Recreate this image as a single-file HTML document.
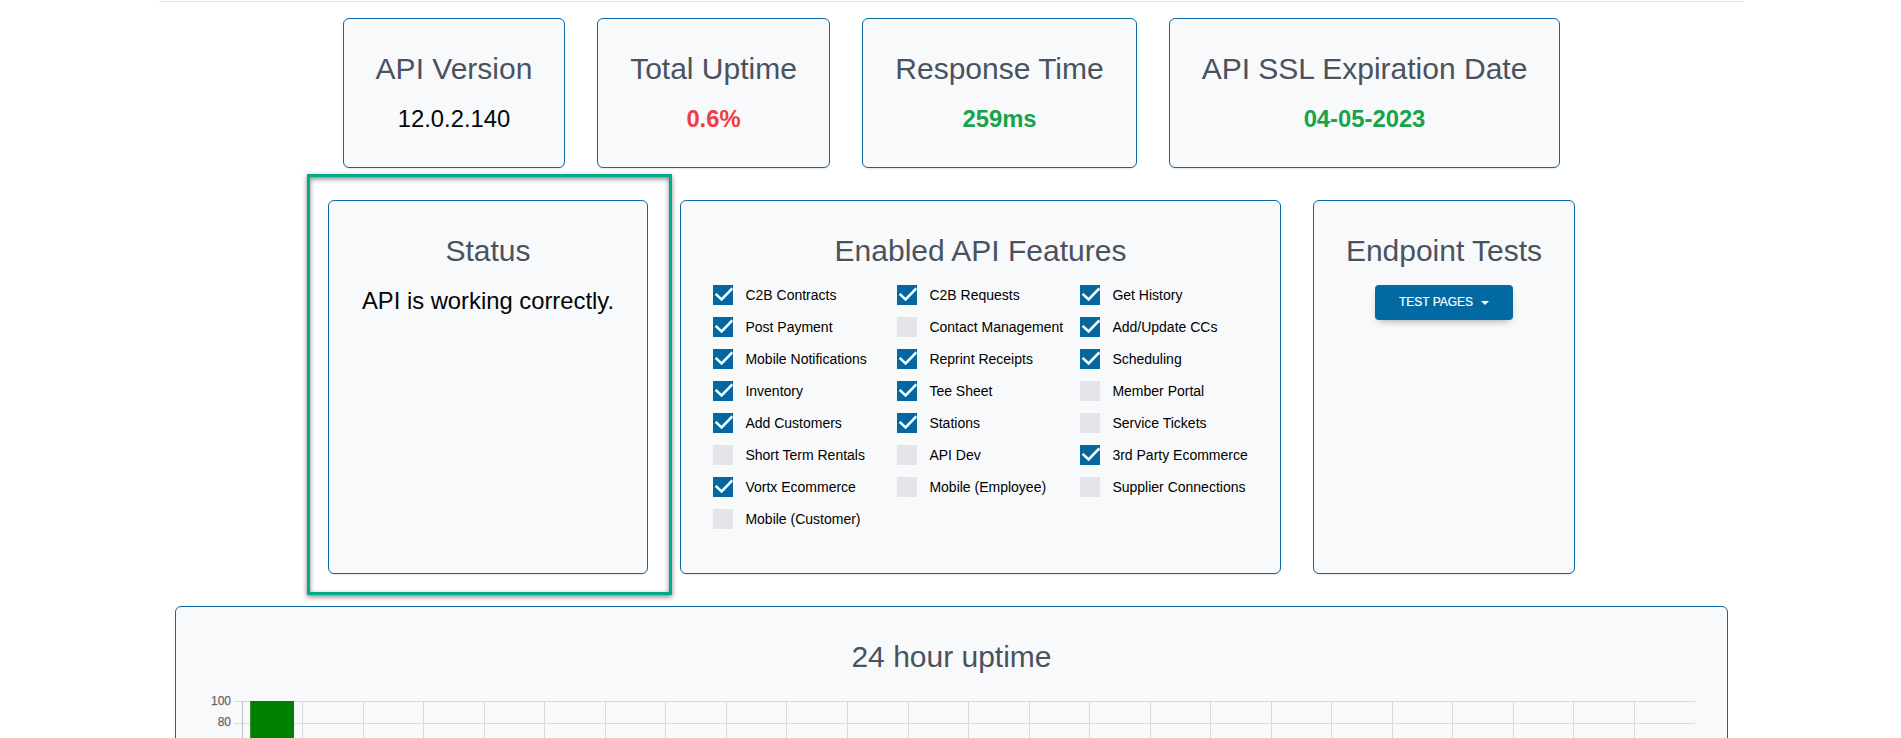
<!DOCTYPE html>
<html lang="en">
<head>
<meta charset="utf-8">
<title>API Status</title>
<style>
html,body{margin:0;padding:0;background:#fff;}
body{width:1901px;height:738px;overflow:hidden;position:relative;font-family:"Liberation Sans",Arial,sans-serif;color:#000;}
.hr{position:absolute;left:159px;top:1px;width:1585px;height:1px;background:#e0e2e6;}
.card{position:absolute;box-sizing:border-box;background:#f8f9fa;border:1px solid #0b68a2;border-radius:6px;box-shadow:0 2px 2px -1px rgba(0,0,0,.10);text-align:center;}
.card h3{position:absolute;left:0;right:0;top:32px;margin:0;font-weight:400;font-size:30px;line-height:36px;color:#4a5260;white-space:nowrap;}
.card .v{position:absolute;left:0;right:0;top:82px;margin:0;font-size:23.8px;line-height:36px;color:#050505;white-space:nowrap;}
.v.b{font-weight:700;}
.red{color:#f03d42 !important;}
.grn{color:#17a34a !important;}
.hl{position:absolute;left:307px;top:174px;width:365px;height:421px;box-sizing:border-box;border:3px solid #03aa87;box-shadow:0 2px 5px rgba(0,0,0,.48), inset 0 2px 5px rgba(0,0,0,.48);}
.ft{position:absolute;height:20px;white-space:nowrap;}
.cb{position:absolute;left:0;top:0;width:20px;height:20px;background:#e4e5e9;display:block;}
.cb.on{background:#0468a0;}
.cb svg{display:block;}
.fl{position:absolute;left:32.4px;top:-0.5px;font-size:14px;line-height:20px;color:#000;}
.btn{position:absolute;left:1375px;top:285px;width:138px;height:35px;box-sizing:border-box;background:#0369a2;color:#fff;border-radius:4px;font-size:12px;line-height:35px;text-transform:uppercase;text-align:center;box-shadow:0 4px 9px -4px rgba(0,0,0,.42);-webkit-text-stroke:.2px #fff;}
.btn .caret{display:inline-block;width:0;height:0;border-left:4px solid transparent;border-right:4px solid transparent;border-top:4px solid #fff;margin-left:8px;vertical-align:1px;}
.chart{position:absolute;left:0;top:0;}
.tk{font-family:"Liberation Sans",Arial,sans-serif;font-size:12px;fill:#666;stroke:#666;stroke-width:.25px;}
</style>
</head>
<body>
<div class="hr"></div>

<div class="card" style="left:343px;top:18px;width:222px;height:150px"><h3>API Version</h3><p class="v">12.0.2.140</p></div>
<div class="card" style="left:597px;top:18px;width:233px;height:150px"><h3>Total Uptime</h3><p class="v b red">0.6%</p></div>
<div class="card" style="left:862px;top:18px;width:275px;height:150px"><h3>Response Time</h3><p class="v b grn">259ms</p></div>
<div class="card" style="left:1169px;top:18px;width:391px;height:150px"><h3>API SSL Expiration Date</h3><p class="v b grn">04-05-2023</p></div>

<div class="hl"></div>
<div class="card" style="left:328px;top:200px;width:320px;height:374px"><h3>Status</h3><p class="v">API is working correctly.</p></div>
<div class="card" style="left:680px;top:200px;width:601px;height:374px"><h3>Enabled API Features</h3></div>
<div class="ft" style="left:713px;top:285px"><span class="cb on"><svg viewBox="0 0 20 20" width="20" height="20"><path d="M2.6 8.9 L8.6 14.5 L19.4 3.3" fill="none" stroke="#fff" stroke-width="2.6"/></svg></span><span class="fl">C2B Contracts</span></div>
<div class="ft" style="left:713px;top:317px"><span class="cb on"><svg viewBox="0 0 20 20" width="20" height="20"><path d="M2.6 8.9 L8.6 14.5 L19.4 3.3" fill="none" stroke="#fff" stroke-width="2.6"/></svg></span><span class="fl">Post Payment</span></div>
<div class="ft" style="left:713px;top:349px"><span class="cb on"><svg viewBox="0 0 20 20" width="20" height="20"><path d="M2.6 8.9 L8.6 14.5 L19.4 3.3" fill="none" stroke="#fff" stroke-width="2.6"/></svg></span><span class="fl">Mobile Notifications</span></div>
<div class="ft" style="left:713px;top:381px"><span class="cb on"><svg viewBox="0 0 20 20" width="20" height="20"><path d="M2.6 8.9 L8.6 14.5 L19.4 3.3" fill="none" stroke="#fff" stroke-width="2.6"/></svg></span><span class="fl">Inventory</span></div>
<div class="ft" style="left:713px;top:413px"><span class="cb on"><svg viewBox="0 0 20 20" width="20" height="20"><path d="M2.6 8.9 L8.6 14.5 L19.4 3.3" fill="none" stroke="#fff" stroke-width="2.6"/></svg></span><span class="fl">Add Customers</span></div>
<div class="ft" style="left:713px;top:445px"><span class="cb"></span><span class="fl">Short Term Rentals</span></div>
<div class="ft" style="left:713px;top:477px"><span class="cb on"><svg viewBox="0 0 20 20" width="20" height="20"><path d="M2.6 8.9 L8.6 14.5 L19.4 3.3" fill="none" stroke="#fff" stroke-width="2.6"/></svg></span><span class="fl">Vortx Ecommerce</span></div>
<div class="ft" style="left:713px;top:509px"><span class="cb"></span><span class="fl">Mobile (Customer)</span></div>
<div class="ft" style="left:897px;top:285px"><span class="cb on"><svg viewBox="0 0 20 20" width="20" height="20"><path d="M2.6 8.9 L8.6 14.5 L19.4 3.3" fill="none" stroke="#fff" stroke-width="2.6"/></svg></span><span class="fl">C2B Requests</span></div>
<div class="ft" style="left:897px;top:317px"><span class="cb"></span><span class="fl">Contact Management</span></div>
<div class="ft" style="left:897px;top:349px"><span class="cb on"><svg viewBox="0 0 20 20" width="20" height="20"><path d="M2.6 8.9 L8.6 14.5 L19.4 3.3" fill="none" stroke="#fff" stroke-width="2.6"/></svg></span><span class="fl">Reprint Receipts</span></div>
<div class="ft" style="left:897px;top:381px"><span class="cb on"><svg viewBox="0 0 20 20" width="20" height="20"><path d="M2.6 8.9 L8.6 14.5 L19.4 3.3" fill="none" stroke="#fff" stroke-width="2.6"/></svg></span><span class="fl">Tee Sheet</span></div>
<div class="ft" style="left:897px;top:413px"><span class="cb on"><svg viewBox="0 0 20 20" width="20" height="20"><path d="M2.6 8.9 L8.6 14.5 L19.4 3.3" fill="none" stroke="#fff" stroke-width="2.6"/></svg></span><span class="fl">Stations</span></div>
<div class="ft" style="left:897px;top:445px"><span class="cb"></span><span class="fl">API Dev</span></div>
<div class="ft" style="left:897px;top:477px"><span class="cb"></span><span class="fl">Mobile (Employee)</span></div>
<div class="ft" style="left:1080px;top:285px"><span class="cb on"><svg viewBox="0 0 20 20" width="20" height="20"><path d="M2.6 8.9 L8.6 14.5 L19.4 3.3" fill="none" stroke="#fff" stroke-width="2.6"/></svg></span><span class="fl">Get History</span></div>
<div class="ft" style="left:1080px;top:317px"><span class="cb on"><svg viewBox="0 0 20 20" width="20" height="20"><path d="M2.6 8.9 L8.6 14.5 L19.4 3.3" fill="none" stroke="#fff" stroke-width="2.6"/></svg></span><span class="fl">Add/Update CCs</span></div>
<div class="ft" style="left:1080px;top:349px"><span class="cb on"><svg viewBox="0 0 20 20" width="20" height="20"><path d="M2.6 8.9 L8.6 14.5 L19.4 3.3" fill="none" stroke="#fff" stroke-width="2.6"/></svg></span><span class="fl">Scheduling</span></div>
<div class="ft" style="left:1080px;top:381px"><span class="cb"></span><span class="fl">Member Portal</span></div>
<div class="ft" style="left:1080px;top:413px"><span class="cb"></span><span class="fl">Service Tickets</span></div>
<div class="ft" style="left:1080px;top:445px"><span class="cb on"><svg viewBox="0 0 20 20" width="20" height="20"><path d="M2.6 8.9 L8.6 14.5 L19.4 3.3" fill="none" stroke="#fff" stroke-width="2.6"/></svg></span><span class="fl">3rd Party Ecommerce</span></div>
<div class="ft" style="left:1080px;top:477px"><span class="cb"></span><span class="fl">Supplier Connections</span></div>
<div class="card" style="left:1313px;top:200px;width:262px;height:374px"><h3>Endpoint Tests</h3></div>
<div class="btn">Test Pages<span class="caret"></span></div>

<div class="card" style="left:175px;top:606px;width:1553px;height:200px"><h3 style="top:31.7px">24 hour uptime</h3></div>
<svg class="chart" width="1901" height="738" viewBox="0 0 1901 738">
<path d="M242.5 701V738 M302.5 701V738 M363.5 701V738 M423.5 701V738 M484.5 701V738 M544.5 701V738 M605.5 701V738 M665.5 701V738 M726.5 701V738 M786.5 701V738 M847.5 701V738 M908.5 701V738 M968.5 701V738 M1029.5 701V738 M1089.5 701V738 M1150.5 701V738 M1210.5 701V738 M1271.5 701V738 M1331.5 701V738 M1392.5 701V738 M1452.5 701V738 M1513.5 701V738 M1573.5 701V738 M1634.5 701V738 M234 701.5H1695 M234 723.5H1695" stroke="rgba(0,0,0,0.12)" stroke-width="1" fill="none" shape-rendering="crispEdges"/>
<path d="M242.5 701V738" stroke="rgba(0,0,0,0.12)" stroke-width="1" fill="none" shape-rendering="crispEdges"/>
<rect x="250.2" y="701" width="43.8" height="40" fill="#008000"/>
<text x="231" y="704.7" text-anchor="end" class="tk">100</text>
<text x="231" y="726.2" text-anchor="end" class="tk">80</text>
</svg>
</body>
</html>
